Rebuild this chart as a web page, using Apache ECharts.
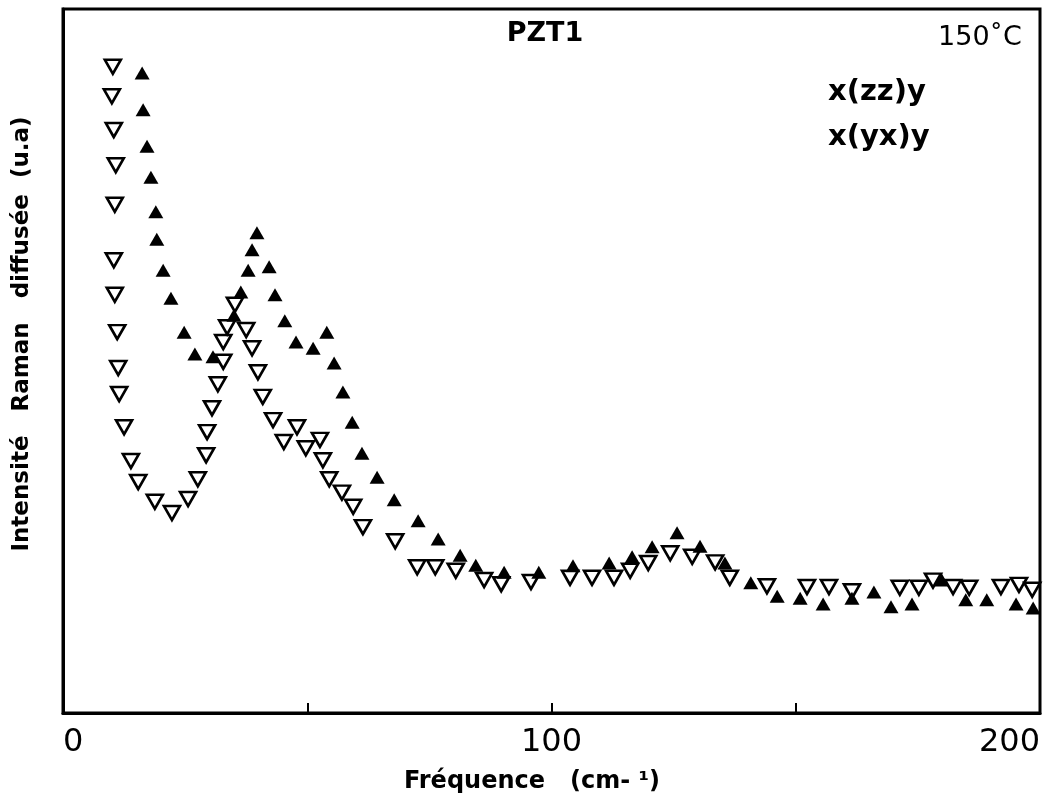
<!DOCTYPE html>
<html><head><meta charset="utf-8">
<script src="https://cdn.jsdelivr.net/npm/echarts@6/dist/echarts.min.js"></script>
<style>html,body{margin:0;padding:0;background:#fff}#c{width:1052px;height:804px}</style>
</head><body><div id="c"></div>
<script>
// x tick labels shown on the frequency axis
const xTickLabels = ['0', '100', '200'];

// Open down-triangles (x(yx)y)
const freqOpen = [10.2,10.0,10.4,10.8,10.6,10.4,10.6,11.1,11.3,11.5,12.5,13.9,15.4,18.8,22.3,25.6,27.6,29.3,29.5,30.5,31.7,32.8,32.8,33.6,35.2,37.5,38.7,39.9,40.9,43.0,45.2,47.9,49.7,52.6,53.2,54.5,57.1,59.4,61.4,68.0,72.5,76.2,80.4,86.2,89.7,95.8,103.8,108.3,112.8,116.1,119.8,124.3,128.8,133.5,136.5,144.1,152.3,156.8,161.5,171.3,175.2,178.1,182.2,185.5,192.0,195.7,198.4];
const intOpen  = [91.8,87.6,82.8,77.8,72.2,64.3,59.4,54.1,49.0,45.3,40.6,35.8,32.8,30.0,28.4,30.4,33.2,36.6,39.9,43.3,46.7,49.9,52.7,54.8,58.0,54.4,51.8,48.4,44.9,41.6,38.5,40.6,37.6,38.8,35.9,33.2,31.3,29.3,26.4,24.4,20.7,20.7,20.2,18.9,18.3,18.6,19.2,19.2,19.2,20.2,21.3,22.7,22.2,21.4,19.2,18.0,17.9,17.9,17.3,17.8,17.8,18.8,17.9,17.8,17.9,18.2,17.5];

// Filled up-triangles (x(zz)y)
const freqFilled = [16.2,16.4,17.2,18.0,19.0,19.2,20.5,22.1,24.8,27.0,30.7,35.0,36.4,37.9,38.7,39.7,42.2,43.4,45.4,47.7,51.2,54.0,55.5,57.3,59.2,61.2,64.3,67.8,72.7,76.8,81.3,84.5,90.3,97.4,104.4,111.8,116.5,120.6,125.7,130.4,135.5,140.8,146.2,150.9,155.6,161.5,166.0,169.5,173.8,179.9,184.8,189.1,195.1,198.6];
const intFilled  = [90.9,85.7,80.5,76.1,71.2,67.3,62.9,58.9,54.1,51.0,50.6,56.5,59.8,62.9,65.8,68.2,63.4,59.4,55.7,52.7,51.8,54.1,49.7,45.6,41.3,36.9,33.5,30.3,27.3,24.7,22.4,21.0,20.0,20.0,20.9,21.3,22.2,23.6,25.6,23.7,21.3,18.5,16.6,16.3,15.5,16.3,17.2,15.1,15.5,18.9,16.1,16.1,15.5,14.9];

const FONT = '"DejaVu Sans", sans-serif';
const INK = '#000';

const chart = echarts.init(document.getElementById('c'), null, {renderer: 'canvas'});
chart.setOption({
  animation: false,
  backgroundColor: '#fff',
  grid: {left: 63, right: 12, top: 9, bottom: 91, show: true, borderColor: INK, borderWidth: 3, backgroundColor: 'transparent'},
  xAxis: {
    type: 'value', min: 0, max: 200, interval: 50,
    axisLine: {show: true, lineStyle: {color: INK, width: 3}},
    axisTick: {show: true, inside: true, length: 10, lineStyle: {color: INK, width: 2}},
    splitLine: {show: false},
    axisLabel: {
      fontSize: 32, fontFamily: FONT, color: INK, margin: 14,
      alignMinLabel: 'left', alignMaxLabel: 'right',
      formatter: v => xTickLabels.includes(String(v)) ? String(v) : ''
    }
  },
  yAxis: {
    type: 'value', min: 0, max: 100,
    axisLine: {show: true, lineStyle: {color: INK, width: 3}},
    axisTick: {show: false}, axisLabel: {show: false}, splitLine: {show: false}
  },
  series: [
    {
      name: 'x(yx)y', type: 'scatter', symbol: 'triangle', symbolRotate: 180, symbolSize: [16, 14],
      itemStyle: {color: 'transparent', borderColor: INK, borderWidth: 2.6, opacity: 1},
      data: freqOpen.map((x, i) => [x, intOpen[i]]), z: 2
    },
    {
      name: 'x(zz)y', type: 'scatter', symbol: 'triangle', symbolSize: [15, 13],
      itemStyle: {color: INK, opacity: 1},
      data: freqFilled.map((x, i) => [x, intFilled[i]]), z: 3
    }
  ],
  graphic: [
    {type: 'text', x: 545, y: 34, style: {text: 'PZT1', font: 'bold 27px ' + FONT, fill: INK, align: 'center', verticalAlign: 'middle'}},
    {type: 'text', x: 980, y: 38, style: {text: '150˚C', font: '27px ' + FONT, fill: INK, align: 'center', verticalAlign: 'middle'}},
    {type: 'text', x: 828, y: 92, style: {text: 'x(zz)y', font: 'bold 29px ' + FONT, fill: INK, align: 'left', verticalAlign: 'middle'}},
    {type: 'text', x: 828, y: 137, style: {text: 'x(yx)y', font: 'bold 29px ' + FONT, fill: INK, align: 'left', verticalAlign: 'middle'}},
    {type: 'text', x: 532, y: 782, style: {text: 'Fréquence   (cm- ¹)', font: 'bold 24px ' + FONT, fill: INK, align: 'center', verticalAlign: 'middle'}},
    {type: 'text', x: 22, y: 334, rotation: Math.PI / 2, style: {text: 'Intensité   Raman   diffusée  (u.a)', font: 'bold 23px ' + FONT, fill: INK, align: 'center', verticalAlign: 'middle'}}
  ]
});
</script>
</body></html>
